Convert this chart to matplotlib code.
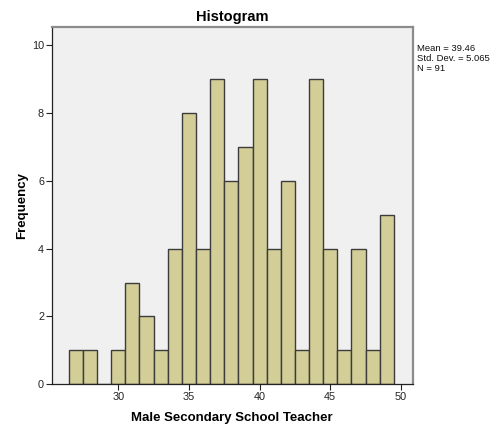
import matplotlib
matplotlib.use("Agg")
import matplotlib.pyplot as plt

# bin centres (width 1) and counts
centres = [27, 28, 29, 30, 31, 32, 33, 34, 35, 36, 37, 38, 39, 40,
           41, 42, 43, 44, 45, 46, 47, 48, 49]
counts = [1, 1, 0, 1, 3, 2, 1, 4, 8, 4, 9, 6, 7, 9,
          4, 6, 1, 9, 4, 1, 4, 1, 5]
xticks = [30, 35, 40, 45, 50]
yticks = [0, 2, 4, 6, 8, 10]
stats_text = "Mean = 39.46\nStd. Dev. = 5.065\nN = 91"

plt.rcParams['font.family'] = ['Liberation Sans', 'DejaVu Sans']

fig = plt.figure(figsize=(4.92, 4.28), dpi=100)
ax = fig.add_axes([51.7 / 492, 1 - 384.3 / 428, (412.7 - 51.7) / 492, (384.3 - 26.7) / 428])
ax.set_facecolor('#f0f0f0')

ax.bar(centres, counts, width=1.0, color='#d3ce98', edgecolor='#3c3c3c', linewidth=1.0)

ax.set_xlim(25.29, 50.83)
ax.set_ylim(0, 10.54)
ax.set_xticks(xticks)
ax.set_yticks(yticks)
ax.tick_params(axis='both', labelsize=7.8, length=4, width=0.8, colors='#222222', pad=1.5)

for side in ['left', 'bottom']:
    ax.spines[side].set_color('#222222')
    ax.spines[side].set_linewidth(0.9)
for side in ['top', 'right']:
    ax.spines[side].set_color('#8c8c8c')
    ax.spines[side].set_linewidth(1.6)

ax.set_title('Histogram', fontsize=10.5, fontweight='bold', pad=4)
ax.set_ylabel('Frequency', fontsize=9.5, fontweight='bold', labelpad=3)
ax.set_xlabel('Male Secondary School Teacher', fontsize=9.5, fontweight='bold', labelpad=7)

fig.text(417 / 492, 1 - 44 / 428, stats_text, fontsize=6.8, va='top', ha='left',
         linespacing=1.15, color='#111111')

fig.savefig('out.png', dpi=100)
